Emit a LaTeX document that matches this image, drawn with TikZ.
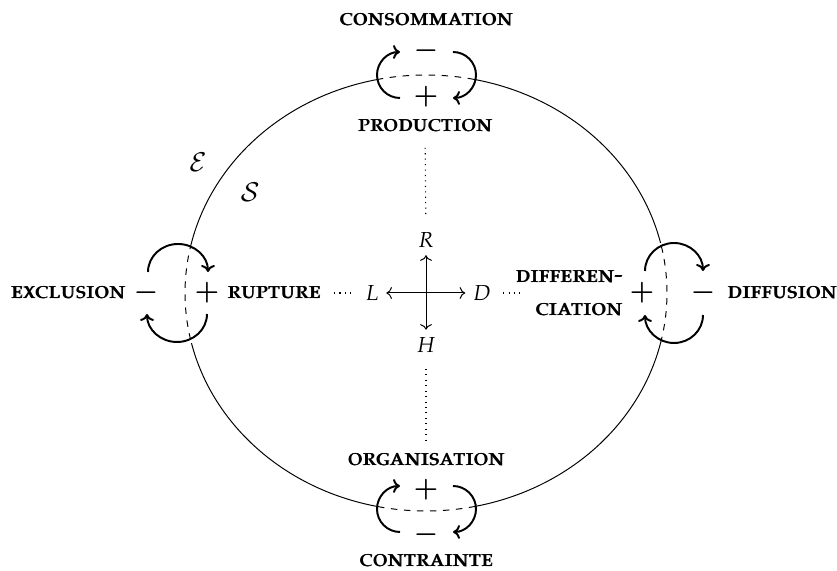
\documentclass[tikz,border=0pt]{standalone}
\usepackage[T1]{fontenc}
\usepackage[sc]{mathpazo}
\usetikzlibrary{arrows.meta,calc}
\newcommand\fakebold[1]{\makebox[0pt][l]{\hspace{0.3pt}#1}#1}
\begin{document}
\begin{tikzpicture}[x=0.46pt,y=0.46pt,
  lab/.style={font=\fontsize{11.2}{13.5}\selectfont\scshape, inner sep=2pt},
  sgn/.style={font=\large\boldmath, inner sep=0pt},
  loop/.style={line width=0.9pt, -{To[length=3.2pt,width=6.4pt]}},
  orb/.style={line width=0.45pt},
  orbd/.style={line width=0.45pt, dashed},
  dots/.style={dotted, line width=0.5pt}]
\useasboundingbox (0,0) rectangle (837,571);
% ellipse: centre (426,278), rx 241, ry 218
\coordinate (O) at (426,278);
\draw[orb]  ($(O)+(13.3:241 and 218)$) arc (13.3:78.5:241 and 218);
\draw[orbd] ($(O)+(78.5:241 and 218)$) arc (78.5:101.5:241 and 218);
\draw[orb]  ($(O)+(101.5:241 and 218)$) arc (101.5:166.7:241 and 218);
\draw[orbd] ($(O)+(166.7:241 and 218)$) arc (166.7:193.3:241 and 218);
\draw[orb]  ($(O)+(193.3:241 and 218)$) arc (193.3:258.5:241 and 218);
\draw[orbd] ($(O)+(258.5:241 and 218)$) arc (258.5:281.5:241 and 218);
\draw[orb]  ($(O)+(281.5:241 and 218)$) arc (281.5:346.7:241 and 218);
\draw[orbd] ($(O)+(346.7:241 and 218)$) arc (346.7:373.3:241 and 218);
% top loop
\draw[loop] (400,473) arc (-90:-270:23);
\draw[loop] (453,519) arc (90:-90:23);
\node[sgn] (tm) at (426,520) {$-$};
\node[sgn] (tp) at (426,474) {$+$};
% bottom loop
\draw[loop] (400,39) arc (-90:-270:23);
\draw[loop] (453,85) arc (90:-90:23);
\node[sgn] (bp) at (426,81) {$+$};
\node[sgn] (bm) at (426,36) {$-$};
% left loop
\draw[loop] (148,299) arc (180:0:30 and 28);
\draw[loop] (207,257) arc (0:-180:30 and 28);
\node[sgn] (lm) at (146,278) {$-$};
\node[sgn] (lp) at (207,278) {$+$};
% right loop
\draw[loop] (645,300) arc (180:0:29 and 28);
\draw[loop] (703,256) arc (0:-180:29 and 28);
\node[sgn] (rp) at (642,278) {$+$};
\node[sgn] (rm) at (703,278) {$-$};
% labels
\node[lab] (cons) at (426,551) {\fakebold{consommation}};
\node[lab] (prod) at (425,445) {\fakebold{production}};
\node[lab] (orga) at (426,111) {\fakebold{organisation}};
\node[lab] (cont) at (426,10) {\fakebold{contrainte}};
\node[lab] (excl) at (68,278) {\fakebold{exclusion}};
\node[lab] (rupt) at (274,278) {\fakebold{rupture}};
\node[lab, anchor=east] (diffa) at (627,294) {\fakebold{differen-}};
\node[lab, anchor=east] (diffb) at (627,261) {\fakebold{ciation}};
\node[lab] (diffu) at (782,278) {\fakebold{diffusion}};
% centre cross
\node (L) at (372,278) {$L$};
\node (D) at (482,278) {$D$};
\node (R) at (426,331) {$R$};
\node (H) at (426,226) {$H$};
\coordinate (dd) at (522,278);
\draw[orb, {To}-{To}] (L) -- (D);
\draw[orb, {To}-{To}] (R) -- (H);
% dotted links
\draw[dots, shorten <=4pt, shorten >=3pt] (rupt) -- (L);
\draw[dots, shorten <=2pt] (D) -- (dd);
\draw[dots, shorten <=5pt, shorten >=4pt] (prod) -- (R);
\draw[dots, shorten <=4pt, shorten >=4pt] (H) -- (orga);
% set symbols
\node[font=\large] (E) at (198,409) {$\mathcal{E}$};
\node[font=\large] (S) at (250,379) {$\mathcal{S}$};
\end{tikzpicture}
\end{document}
